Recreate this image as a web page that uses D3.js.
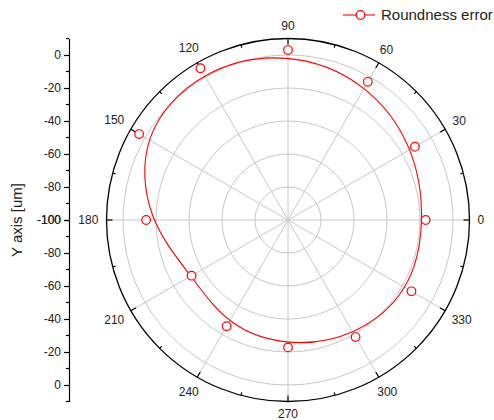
<!DOCTYPE html>
<html>
<head>
<meta charset="utf-8">
<script src="https://d3js.org/d3.v7.min.js"></script>
<style>
  body { margin: 0; background: #fff; }
  text { font-family: Arial, "Liberation Sans", sans-serif; fill: #222; }
</style>
</head>
<body>
<svg width="494" height="420"></svg>
<script>
// roundness measurement, one point every 30 degrees
var angles = [0, 30, 60, 90, 120, 150, 180, 210, 240, 270, 300, 330];
var values = [-16.6, -11.2, -3.3, 3.0, 6.2, 4.2, -14.0, -32.5, -25.7, -22.8, -18.1, -13.6];
var gridValues = [-80, -60, -40, -20, 0];
var yTickValues = [-100, -80, -60, -40, -20, 0];
var seriesName = "Roundness error";

var svg = d3.select("svg");
var cx = 288, cy = 220;

var r = d3.scaleLinear().domain([-100, 10]).range([0, 181.5]);
var R = r(10);

function px(a, v) { var t = a * Math.PI / 180; return [cx + r(v) * Math.cos(t), cy - r(v) * Math.sin(t)]; }

var g = svg.append("g");

// grid circles
g.selectAll(".gc").data(gridValues).enter().append("circle")
    .attr("cx", cx).attr("cy", cy).attr("r", function(d) { return r(d); })
    .attr("fill", "none").attr("stroke", "#c8c8c8").attr("stroke-width", 1);

// radial lines
g.selectAll(".rl").data(angles).enter().append("line")
    .attr("x1", cx).attr("y1", cy)
    .attr("x2", function(d) { return cx + R * Math.cos(d * Math.PI / 180); })
    .attr("y2", function(d) { return cy - R * Math.sin(d * Math.PI / 180); })
    .attr("stroke", "#c8c8c8").attr("stroke-width", 1);

// outer circle
g.append("circle").attr("cx", cx).attr("cy", cy).attr("r", R)
    .attr("fill", "none").attr("stroke", "#000").attr("stroke-width", 1.3);

// angular ticks, major every 30, minor every 15
var angTicks = d3.range(0, 360, 15);
g.selectAll(".at").data(angTicks).enter().append("line")
    .attr("x1", function(d) { return cx + R * Math.cos(d * Math.PI / 180); })
    .attr("y1", function(d) { return cy - R * Math.sin(d * Math.PI / 180); })
    .attr("x2", function(d) { var l = d % 30 ? 3 : 6; return cx + (R - l) * Math.cos(d * Math.PI / 180); })
    .attr("y2", function(d) { var l = d % 30 ? 3 : 6; return cy - (R - l) * Math.sin(d * Math.PI / 180); })
    .attr("stroke", "#000").attr("stroke-width", 1.2);

// angular labels
function labelPos(d) {
    var t = d * Math.PI / 180, hw = String(d).length * 3.4;
    var dist = R + 8 + hw * Math.abs(Math.cos(t)) + 4.5 * Math.abs(Math.sin(t));
    return [cx + dist * Math.cos(t), cy - dist * Math.sin(t)];
}
g.selectAll(".al").data(angles).enter().append("text")
    .attr("font-size", 12)
    .attr("text-anchor", "middle")
    .attr("dy", "0.35em")
    .attr("x", function(d) { return labelPos(d)[0]; })
    .attr("y", function(d) { return labelPos(d)[1]; })
    .text(function(d) { return d; });

// data curve (B-spline through control points) and markers
var pts = angles.map(function(a, i) { return px(a, values[i]); });
g.append("path")
    .attr("d", d3.line().curve(d3.curveBasisClosed)(pts))
    .attr("fill", "none").attr("stroke", "#ff0000").attr("stroke-width", 1.1);

g.selectAll(".mk").data(pts).enter().append("circle")
    .attr("cx", function(d) { return d[0]; }).attr("cy", function(d) { return d[1]; })
    .attr("r", 4.3).attr("fill", "#fff").attr("stroke", "#ff0000").attr("stroke-width", 1.2);

// left radial axis, mirrored above and below the centre
var ax = 69;
var yTop = d3.scaleLinear().domain([-100, 10]).range([cy, cy - R]);
var yBot = d3.scaleLinear().domain([-100, 10]).range([cy, cy + R]);
[yTop, yBot].forEach(function(s) {
    var a = svg.append("g").attr("transform", "translate(" + ax + ",0)")
        .call(d3.axisLeft(s).tickValues(yTickValues).tickSize(5).tickPadding(3).tickSizeOuter(0)
            .tickFormat(function(d) { return String(d); }));
    a.select(".domain").attr("stroke", "#000").attr("stroke-width", 1.2);
    a.selectAll(".tick line").attr("stroke", "#000").attr("stroke-width", 1.2);
    a.selectAll(".tick text").attr("font-size", 12).attr("fill", "#222")
        .attr("font-family", "Arial, 'Liberation Sans', sans-serif");
    a.selectAll(".minor").data([-90, -70, -50, -30, -10, 10]).enter().append("line")
        .attr("x1", 0).attr("x2", -3)
        .attr("y1", function(d) { return s(d); }).attr("y2", function(d) { return s(d); })
        .attr("stroke", "#000").attr("stroke-width", 1.2);
});

svg.append("text")
    .attr("transform", "translate(22," + cy + ") rotate(-90)")
    .attr("text-anchor", "middle").attr("font-size", 15)
    .text("Y axis [um]");

// legend
var lg = svg.append("g").attr("transform", "translate(343,15)");
lg.append("line").attr("x1", 0).attr("x2", 32).attr("y1", 0).attr("y2", 0)
    .attr("stroke", "#ff0000").attr("stroke-width", 1.1);
lg.append("circle").attr("cx", 17.5).attr("cy", 0).attr("r", 4.3)
    .attr("fill", "#fff").attr("stroke", "#ff0000").attr("stroke-width", 1.2);
lg.append("text").attr("x", 38).attr("y", 0).attr("dy", "0.35em")
    .attr("font-size", 15).text(seriesName);
</script>
</body>
</html>
